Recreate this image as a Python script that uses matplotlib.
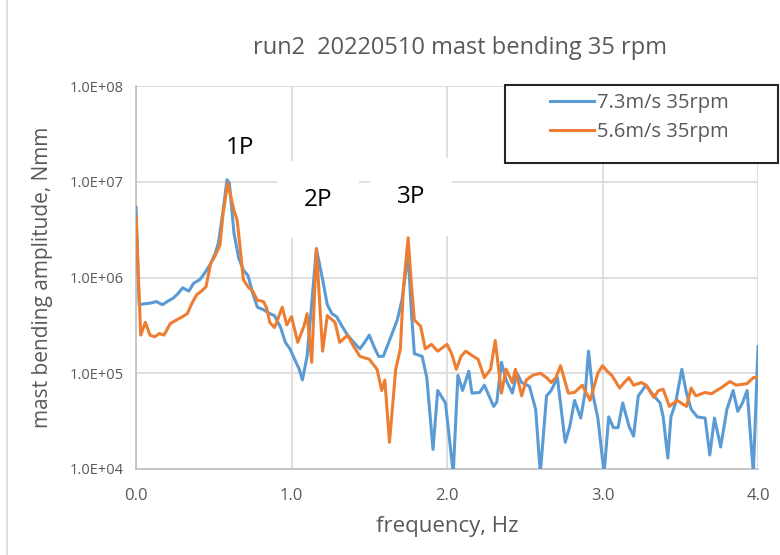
import math
import matplotlib
matplotlib.use("Agg")
import matplotlib.pyplot as plt
from matplotlib.ticker import FixedLocator, FuncFormatter

plt.rcParams['font.family'] = ['Open Sans', 'DejaVu Sans']

# ── Data ─────────────────────────────────────────────────────────────────────

freq_73 = [0.00, 0.02, 0.05, 0.09, 0.13, 0.17, 0.20, 0.24, 0.27, 0.30,
           0.34, 0.37, 0.41, 0.44, 0.48, 0.51, 0.53, 0.56, 0.585, 0.60,
           0.63, 0.66, 0.69, 0.72, 0.75, 0.78, 0.82, 0.86, 0.89, 0.93,
           0.96, 0.99, 1.02, 1.05, 1.07, 1.10, 1.13, 1.16, 1.20, 1.23,
           1.26, 1.29, 1.32, 1.36, 1.40, 1.44, 1.47, 1.50, 1.53, 1.56,
           1.59, 1.63, 1.68, 1.71, 1.75, 1.77, 1.79, 1.84, 1.87, 1.91,
           1.94, 1.99, 2.04, 2.07, 2.10, 2.14, 2.16, 2.21, 2.24, 2.30,
           2.32, 2.35, 2.38, 2.42, 2.45, 2.48, 2.53, 2.57, 2.60, 2.64,
           2.67, 2.71, 2.76, 2.79, 2.82, 2.86, 2.89, 2.91, 2.94, 2.97,
           3.01, 3.04, 3.07, 3.10, 3.13, 3.17, 3.20, 3.23, 3.28, 3.33,
           3.37, 3.39, 3.42, 3.44, 3.47, 3.51, 3.54, 3.57, 3.61, 3.66,
           3.69, 3.72, 3.76, 3.80, 3.84, 3.87, 3.90, 3.93, 3.97, 4.00]
amp_73 = [5.4e6, 5.2e5, 5.3e5, 5.4e5, 5.6e5, 5.2e5, 5.6e5, 6.1e5, 6.8e5, 7.8e5,
          7.2e5, 8.7e5, 9.5e5, 1.1e6, 1.4e6, 1.8e6, 2.3e6, 5.0e6, 1.05e7, 9.7e6,
          2.9e6, 1.6e6, 1.2e6, 1.05e6, 6.9e5, 4.9e5, 4.6e5, 4.2e5, 4.0e5, 3.0e5,
          2.1e5, 1.8e5, 1.4e5, 1.1e5, 8.5e4, 1.5e5, 5.4e5, 2.0e6, 9.5e5, 5.2e5,
          4.2e5, 3.9e5, 3.2e5, 2.5e5, 2.1e5, 1.8e5, 2.1e5, 2.5e5, 1.9e5, 1.5e5,
          1.5e5, 2.2e5, 3.6e5, 5.8e5, 1.75e6, 4.6e5, 1.6e5, 1.5e5, 9.0e4, 1.6e4,
          6.6e4, 4.9e4, 9.0e3, 9.5e4, 6.6e4, 1.05e5, 6.2e4, 6.3e4, 7.5e4, 4.5e4,
          5.0e4, 1.3e5, 8.5e4, 6.2e4, 1.0e5, 8.0e4, 7.3e4, 4.2e4, 9.0e3, 5.8e4,
          6.6e4, 9.0e4, 1.9e4, 2.8e4, 5.2e4, 3.4e4, 6.6e4, 1.7e5, 5.8e4, 3.4e4,
          9.0e3, 3.5e4, 2.7e4, 2.7e4, 4.9e4, 2.8e4, 2.2e4, 5.8e4, 7.5e4, 5.8e4,
          4.9e4, 3.5e4, 1.3e4, 3.5e4, 4.9e4, 1.1e5, 6.2e4, 4.2e4, 3.5e4, 3.4e4,
          1.4e4, 3.4e4, 1.7e4, 4.2e4, 6.6e4, 4.0e4, 4.9e4, 6.6e4, 9.0e3, 1.9e5]

freq_56 = [0.00, 0.03, 0.06, 0.09, 0.12, 0.15, 0.18, 0.22, 0.26, 0.30,
           0.33, 0.36, 0.39, 0.42, 0.45, 0.48, 0.51, 0.54, 0.56, 0.59,
           0.61, 0.63, 0.65, 0.67, 0.69, 0.72, 0.75, 0.78, 0.82, 0.84,
           0.86, 0.89, 0.91, 0.94, 0.97, 1.00, 1.04, 1.08, 1.10, 1.13,
           1.16, 1.20, 1.23, 1.28, 1.31, 1.36, 1.40, 1.44, 1.50, 1.55,
           1.58, 1.60, 1.63, 1.67, 1.70, 1.72, 1.75, 1.77, 1.79, 1.83,
           1.86, 1.90, 1.94, 2.00, 2.03, 2.06, 2.09, 2.12, 2.17, 2.20,
           2.24, 2.28, 2.31, 2.35, 2.38, 2.42, 2.44, 2.48, 2.51, 2.55,
           2.60, 2.64, 2.67, 2.70, 2.73, 2.78, 2.82, 2.87, 2.92, 2.97,
           3.00, 3.03, 3.06, 3.11, 3.14, 3.17, 3.20, 3.25, 3.28, 3.33,
           3.36, 3.39, 3.43, 3.48, 3.54, 3.57, 3.60, 3.66, 3.70, 3.76,
           3.82, 3.86, 3.93, 3.97, 4.00]
amp_56 = [4.3e6, 2.5e5, 3.4e5, 2.5e5, 2.4e5, 2.6e5, 2.5e5, 3.3e5, 3.6e5, 3.9e5,
          4.2e5, 5.4e5, 6.6e5, 7.2e5, 8.0e5, 1.4e6, 1.7e6, 2.2e6, 4.7e6, 9.7e6,
          7.0e6, 5.0e6, 4.0e6, 2.0e6, 9.5e5, 8.0e5, 7.2e5, 5.8e5, 5.6e5, 4.8e5,
          3.4e5, 3.0e5, 3.6e5, 4.9e5, 3.2e5, 3.9e5, 2.1e5, 3.1e5, 4.2e5, 1.3e5,
          2.0e6, 1.7e5, 4.0e5, 3.4e5, 2.1e5, 2.5e5, 1.9e5, 1.5e5, 1.4e5, 1.1e5,
          6.6e4, 8.5e4, 1.9e4, 1.1e5, 1.8e5, 8.0e5, 2.6e6, 8.8e5, 3.6e5, 3.1e5,
          1.8e5, 2.0e5, 1.7e5, 2.0e5, 1.6e5, 1.1e5, 1.5e5, 1.7e5, 1.5e5, 1.4e5,
          9.0e4, 1.1e5, 2.2e5, 6.2e4, 1.1e5, 8.0e4, 1.1e5, 5.8e4, 8.5e4, 9.5e4,
          1.0e5, 9.0e4, 8.0e4, 9.0e4, 1.2e5, 6.2e4, 6.3e4, 7.5e4, 5.2e4, 1.0e5,
          1.2e5, 1.05e5, 9.5e4, 7.0e4, 8.0e4, 9.0e4, 7.5e4, 8.0e4, 7.5e4, 5.6e4,
          6.6e4, 6.8e4, 4.5e4, 5.2e4, 4.5e4, 7.0e4, 5.8e4, 6.3e4, 6.1e4, 7.0e4,
          8.2e4, 7.5e4, 7.8e4, 9.0e4, 9.0e4]

series_labels = ["7.3m/s 35rpm", "5.6m/s 35rpm"]
x_ticks = [0.0, 1.0, 2.0, 3.0, 4.0]
y_ticks = [1e4, 1e5, 1e6, 1e7, 1e8]
peak_labels = ["1P", "2P", "3P"]
peak_pos = [(0.67, 2.25e7), (1.17, 6.5e6), (1.77, 6.9e6)]

BLUE = "#5b9bd5"
ORANGE = "#ed7d31"
GRID = "#d9d9d9"
TEXT = "#595959"

# ── Plot ─────────────────────────────────────────────────────────────────────

fig = plt.figure(figsize=(7.8, 5.55), dpi=100)
ax = fig.add_axes([0.1744, 0.155, 0.7974, 0.69])

ax.plot(freq_73, amp_73, color=BLUE, lw=2.2, label=series_labels[0], zorder=3)
ax.plot(freq_56, amp_56, color=ORANGE, lw=2.2, label=series_labels[1], zorder=4)

ax.set_yscale("log")
ax.set_xlim(0, 4)
ax.set_ylim(1e4, 1e8)
ax.xaxis.set_major_locator(FixedLocator(x_ticks))
ax.yaxis.set_major_locator(FixedLocator(y_ticks))
ax.yaxis.set_minor_locator(FixedLocator([]))
ax.xaxis.set_major_formatter(FuncFormatter(lambda v, p: f"{v:.1f}"))
ax.yaxis.set_major_formatter(FuncFormatter(
    lambda v, p: "1.0E+{:02d}".format(int(round(math.log10(v))))))
ax.tick_params(length=0, colors=TEXT)
ax.tick_params(axis="x", pad=14, labelsize=12)
ax.tick_params(axis="y", pad=9, labelsize=10.5)
ax.grid(True, color=GRID, lw=1.2, zorder=0)
for side in ("top", "right"):
    ax.spines[side].set_visible(False)
for side in ("left", "bottom"):
    ax.spines[side].set_color("#bfbfbf")
    ax.spines[side].set_linewidth(1.2)

fig.text(460 / 780, 1 - 48 / 555, "run2  20220510 mast bending 35 rpm",
         fontsize=17, color=TEXT, ha="center", va="center")
ax.set_xlabel("frequency, Hz", fontsize=16, color=TEXT, labelpad=8)
ax.set_ylabel("mast bending amplitude, Nmm", fontsize=15, color=TEXT,
              labelpad=12)

# peak annotations; 2P and 3P sit on white boxes like the original
for i, (lab, (px, py)) in enumerate(zip(peak_labels, peak_pos)):
    box = None if i == 0 else dict(boxstyle="square,pad=1.1", fc="white",
                                    ec="none")
    ax.text(px, py, lab, fontsize=17.5, color="black", ha="center",
            va="center", bbox=box, zorder=2)

# legend: frame drawn as its own box so the entries can sit inset
fig.patches.append(plt.Rectangle((505 / 780, 1 - 163 / 555), 273 / 780,
                                 78 / 555, transform=fig.transFigure,
                                 fc="white", ec="#262626", lw=1.5, zorder=5))
leg = ax.legend(loc="upper left", bbox_to_anchor=(550 / 780, 1 - 93 / 555),
                bbox_transform=fig.transFigure, frameon=False, fontsize=14.5,
                handlelength=2.2, borderpad=0, labelspacing=0.45,
                handletextpad=0.15, borderaxespad=0)
leg.set_zorder(6)
for t in leg.get_texts():
    t.set_color(TEXT)
fig.legends.append(leg)

# light chart-area border
fig.patches.append(plt.Rectangle((0.009, -0.01), 1.0, 1.02,
                                 transform=fig.transFigure, fill=False,
                                 ec="#d9d9d9", lw=1.2))

fig.savefig("out.png", dpi=100)
